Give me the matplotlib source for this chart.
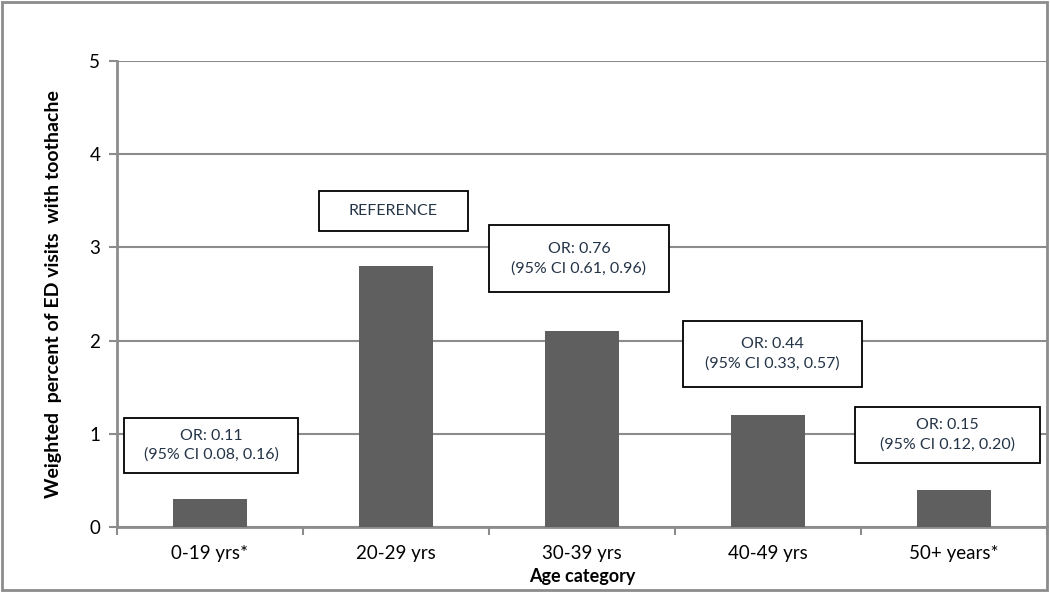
import matplotlib.pyplot as plt
from matplotlib.patches import Rectangle

# data
categories = ['0-19 yrs*', '20-29 yrs', '30-39 yrs', '40-49 yrs', '50+ years*']
percent = [0.3, 2.8, 2.1, 1.2, 0.4]
box_texts = ['OR: 0.11\n(95% CI 0.08, 0.16)', 'REFERENCE',
             'OR: 0.76\n(95% CI 0.61, 0.96)', 'OR: 0.44\n(95% CI 0.33, 0.57)',
             'OR: 0.15\n(95% CI 0.12, 0.20)']
# box extents in data coords: (x0, x1, y0, y1)
box_pos = [(-0.462, 0.473, 0.58, 1.17), (0.586, 1.387, 3.176, 3.605),
           (1.50, 2.468, 2.521, 3.240), (2.543, 3.505, 1.502, 2.210),
           (3.468, 4.462, 0.687, 1.288)]

plt.rcParams['font.family'] = ['Lato', 'DejaVu Sans']

fig = plt.figure(figsize=(10.5, 5.92), dpi=100)
ax = fig.add_axes([0.1114, 0.1098, 0.8857, 0.7872])

grid_c = '#8c8c8c'
x = range(len(categories))
ax.bar(x, percent, width=0.4, color='#5f5f5f', zorder=3)

ax.set_xlim(-0.5, 4.5)
ax.set_ylim(0, 5)
ax.set_yticks(range(6))
ax.yaxis.grid(True, color=grid_c, linewidth=1.5, zorder=0)
ax.set_xticks([i - 0.5 for i in range(6)], minor=False)
ax.set_xticklabels([''] * 6)
ax.set_xticks(list(x), minor=True)
ax.set_xticklabels(categories, minor=True, fontsize=13.5)
ax.tick_params(axis='x', which='minor', length=0, pad=13)
ax.tick_params(axis='x', which='major', length=6, color=grid_c, width=1.5)
ax.tick_params(axis='y', length=6, color=grid_c, width=1.5, labelsize=13.5, pad=6)

for s in ['top', 'right']:
    ax.spines[s].set_visible(False)
for s in ['left', 'bottom']:
    ax.spines[s].set_color(grid_c)
    ax.spines[s].set_linewidth(2)

ax.set_ylabel('Weighted  percent of ED visits  with toothache', fontsize=14,
              fontweight='bold', labelpad=20)
ax.set_xlabel('Age category', fontsize=13, fontweight='bold', labelpad=4)

for (x0, x1, y0, y1), t in zip(box_pos, box_texts):
    ax.add_patch(Rectangle((x0, y0), x1 - x0, y1 - y0, facecolor='white',
                           edgecolor='black', linewidth=1.3, zorder=4,
                           clip_on=False))
    ax.text((x0 + x1) / 2, (y0 + y1) / 2, t, ha='center', va='center',
            fontsize=11.5, color='#243447', zorder=5, linespacing=1.45)

# outer chart border
fig.add_artist(Rectangle((0.002, 0.004), 0.995, 0.992, transform=fig.transFigure,
                         fill=False, edgecolor='#8c8c8c', linewidth=2))

fig.savefig('out.png', dpi=100)
